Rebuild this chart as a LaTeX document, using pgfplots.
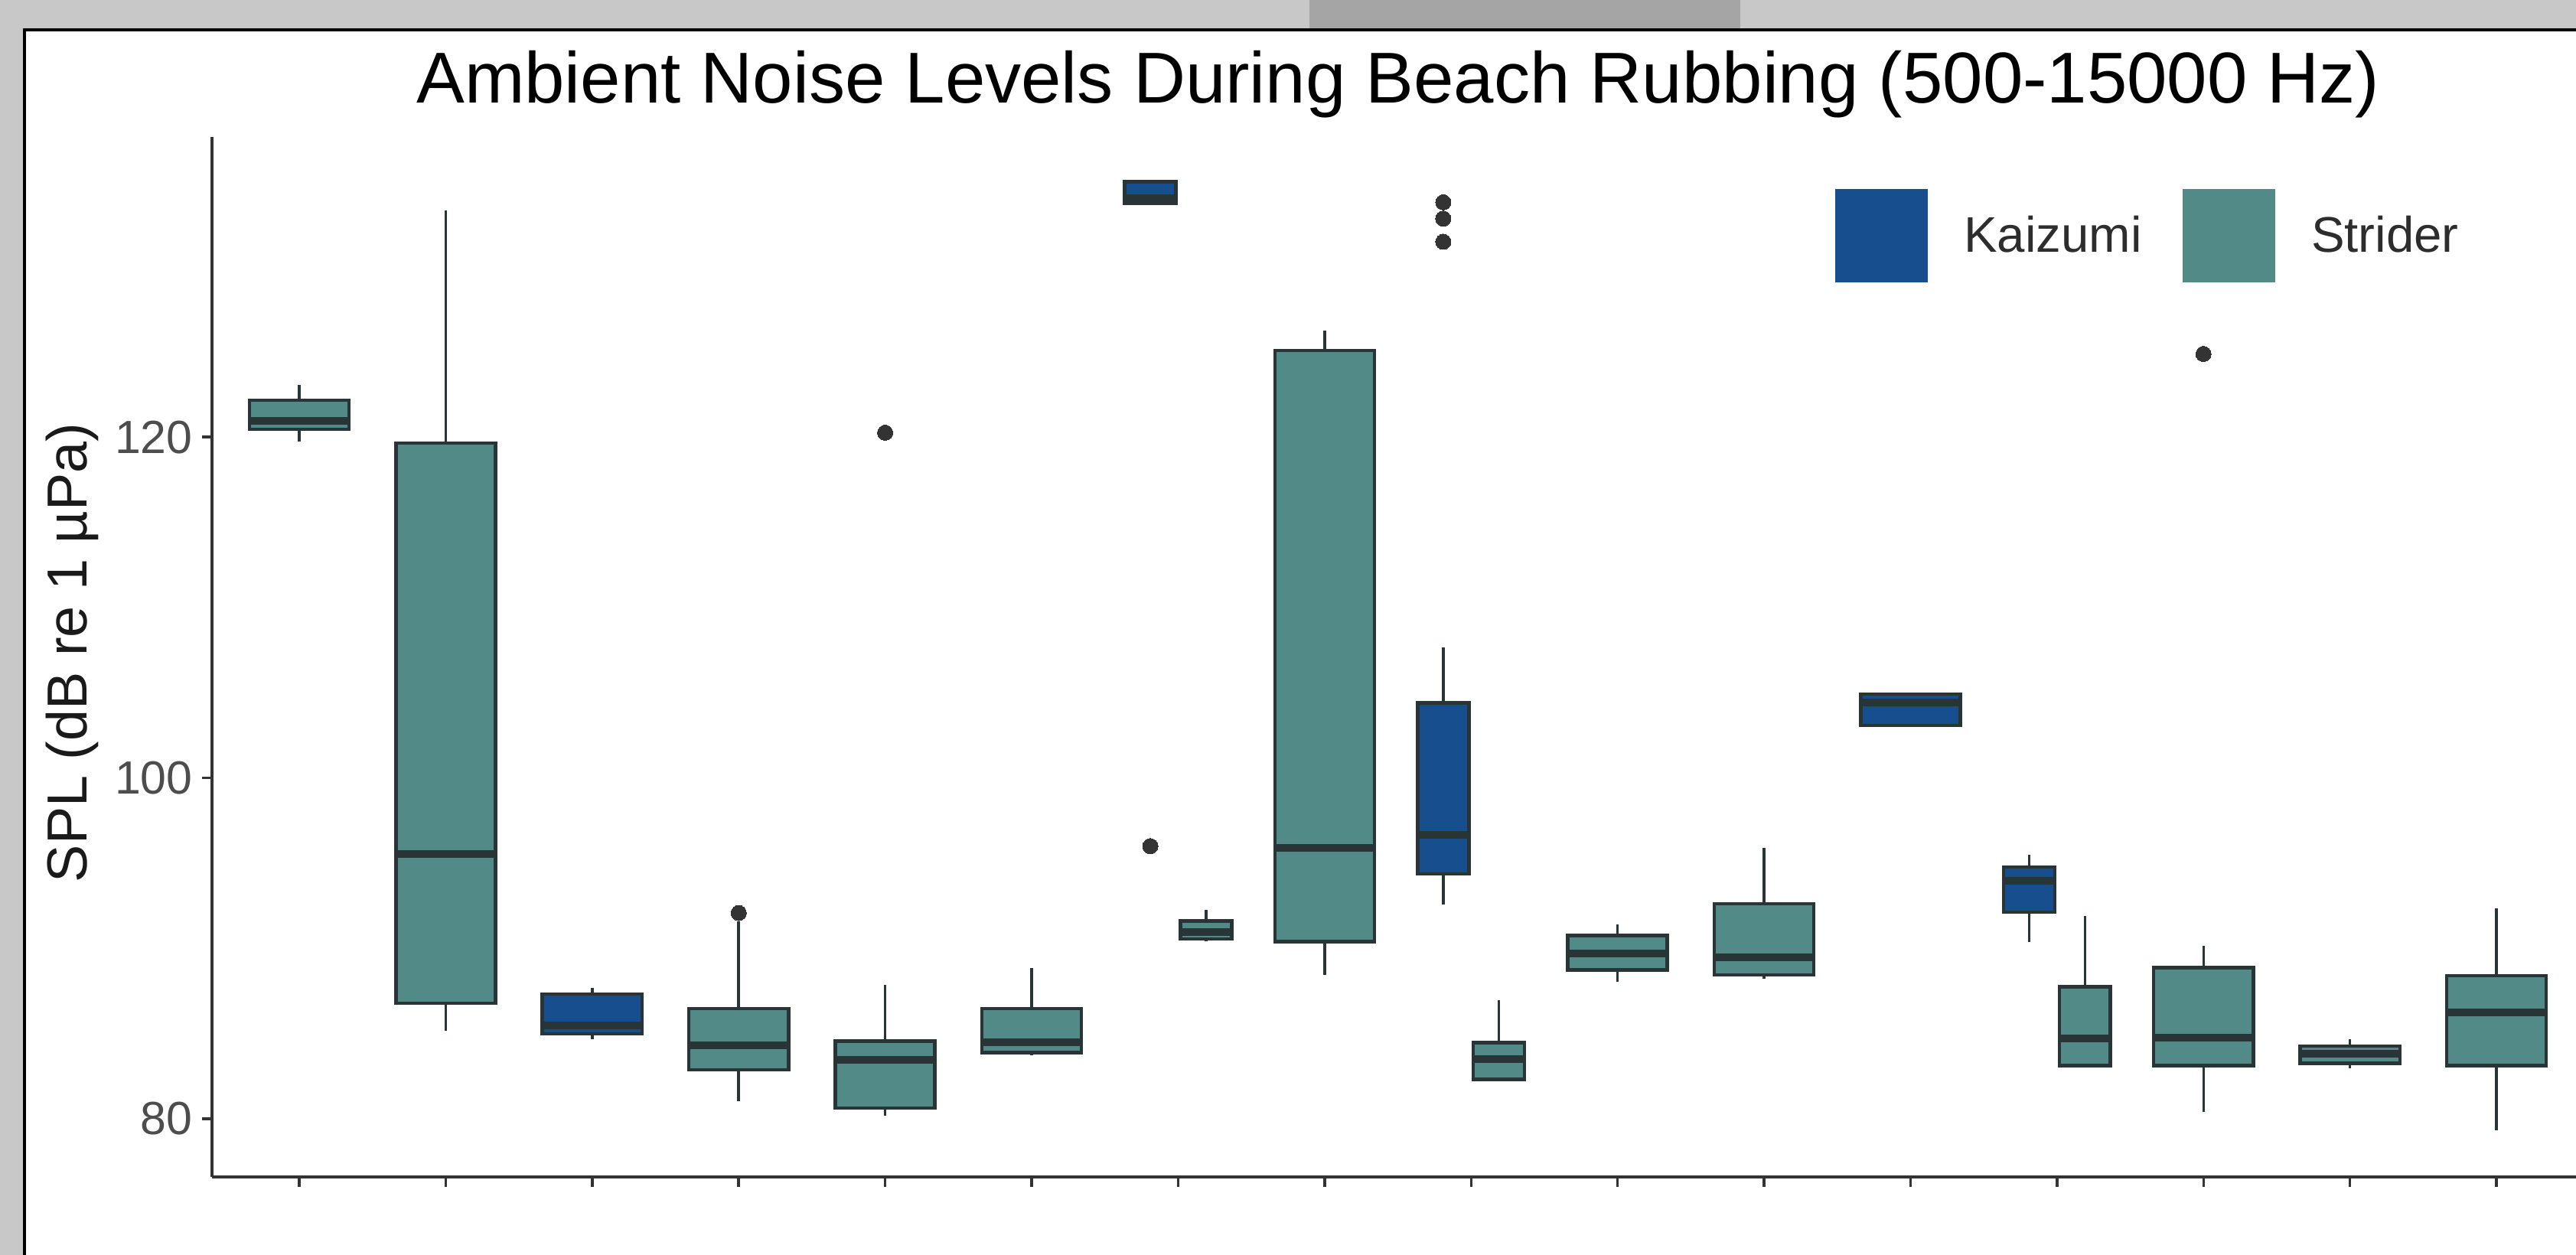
\documentclass[border=0pt]{standalone}
\usepackage{fontspec}
\setmainfont{Liberation Sans}
\usepackage{pgfplots}
\pgfplotsset{compat=1.18}

\definecolor{kaizumi}{RGB}{22,78,142}
\definecolor{strider}{RGB}{82,138,136}
\definecolor{boxline}{RGB}{40,52,54}
\definecolor{dotcol}{RGB}{51,51,51}
\definecolor{axcol}{RGB}{51,51,51}
\definecolor{tickgray}{RGB}{77,77,77}
\definecolor{legtext}{RGB}{45,45,45}
\definecolor{photo}{RGB}{200,200,200}
\definecolor{photodark}{RGB}{165,165,165}

\pgfplotsset{
  st/.style={fill=strider, draw=boxline, line width=0.045cm, mark=none, forget plot},
  kz/.style={fill=kaizumi, draw=boxline, line width=0.045cm, mark=none, forget plot},
  wh/.style={draw=boxline, line width=0.035cm, mark=none, forget plot, unbounded coords=jump},
  md/.style={draw=boxline, line width=0.1cm, mark=none, forget plot, unbounded coords=jump},
}

\begin{document}
\begin{tikzpicture}
\useasboundingbox (0,0) rectangle (33.66,16.40);
\clip (0,0) rectangle (33.66,16.40);
% photo behind the panel
\fill[photo] (0,0) rectangle (33.66,16.40);
\fill[photodark] (17.11,15.9) rectangle (22.74,16.40);
\filldraw[fill=white, draw=black, line width=0.04cm] (0.32,-1) rectangle (35,16.014);

\node[anchor=base, font=\fontsize{26.8}{32}\selectfont] at (18.27,15.05)
  {Ambient Noise Levels During Beach Rubbing (500-15000 Hz)};
\node[anchor=base, rotate=90, font=\fontsize{21}{25}\selectfont, text={rgb,255:red,26;green,26;blue,26}]
  at (1.13,7.87) {SPL (dB re 1 µPa)};

\begin{axis}[
  at={(2.77cm,1.02cm)}, anchor=south west,
  scale only axis, width=30.89cm, height=13.594cm,
  xmin=0.4044, xmax=16.543, ymin=76.59, ymax=137.63,
  axis lines*=left,
  axis line style={line width=0.045cm, draw=axcol},
  tick style={line width=0.035cm, draw=axcol},
  tick align=outside, major tick length=0.13cm,
  xtick={1,...,16}, xticklabels={},
  ytick={80,100,120},
  /pgf/number format/assume math mode=true,
  yticklabel style={font=\fontsize{17.3}{20}\selectfont, text=tickgray},
  legend columns=2,
  legend style={at={(0.6863,0.9048)}, anchor=west, draw=none, fill=white,
    inner sep=0pt, row sep=0pt, nodes={inner sep=0pt},
    font=\fontsize{18.6}{22}\selectfont, text=legtext,
    /tikz/every odd column/.append style={column sep=0.47cm},
    /tikz/every even column/.append style={column sep=0.53cm}},
]
\addlegendimage{legend image code/.code={\fill[kaizumi] (0cm,-0.6cm) rectangle (1.2cm,0.6cm);}}
\addlegendentry{Kaizumi}
\addlegendimage{legend image code/.code={\fill[strider] (0cm,-0.6cm) rectangle (1.2cm,0.6cm);}}
\addlegendentry{Strider}

% whiskers
\addplot[wh] coordinates {
 (1,119.74)(1,120.46) (1,nan) (1,122.16)(1,123.06) (1,nan)
 (2,85.16)(2,86.79) (2,nan) (2,119.65)(2,133.3) (2,nan)
 (3,84.68)(3,84.98) (3,nan) (3,87.32)(3,87.66) (3,nan)
 (4,81.03)(4,82.87) (4,nan) (4,86.47)(4,91.6) (4,nan)
 (5,80.18)(5,80.63) (5,nan) (5,84.56)(5,87.86) (5,nan)
 (6,83.73)(6,83.89) (6,nan) (6,86.47)(6,88.87) (6,nan)
 (7.19,90.4)(7.19,90.56) (7.19,nan) (7.19,91.61)(7.19,92.25) (7.19,nan)
 (8,88.45)(8,90.39) (8,nan) (8,125.08)(8,126.25) (8,nan)
 (8.81,92.59)(8.81,94.36) (8.81,nan) (8.81,104.4)(8.81,107.64) (8.81,nan)
 (9.19,84.48)(9.19,86.98) (9.19,nan)
 (10,88.02)(10,88.73) (10,nan) (10,90.76)(10,91.4) (10,nan)
 (11,88.2)(11,88.45) (11,nan) (11,92.62)(11,95.88) (11,nan)
 (12.81,90.39)(12.81,92.12) (12.81,nan) (12.81,94.78)(12.81,95.49) (12.81,nan)
 (13.19,87.75)(13.19,91.88) (13.19,nan)
 (14,80.39)(14,83.13) (14,nan) (14,88.87)(14,90.14) (14,nan)
 (15,82.96)(15,83.26) (15,nan) (15,84.27)(15,84.68) (15,nan)
 (16,79.33)(16,83.13) (16,nan) (16,88.4)(16,92.33)
};

% boxes (lower quartile to upper quartile)
\addplot[st] coordinates {(0.66,120.46)(1.34,120.46)(1.34,122.16)(0.66,122.16)} -- cycle;
\addplot[st] coordinates {(1.66,86.79)(2.34,86.79)(2.34,119.65)(1.66,119.65)} -- cycle;
\addplot[kz] coordinates {(2.66,84.98)(3.34,84.98)(3.34,87.32)(2.66,87.32)} -- cycle;
\addplot[st] coordinates {(3.66,82.87)(4.34,82.87)(4.34,86.47)(3.66,86.47)} -- cycle;
\addplot[st] coordinates {(4.66,80.63)(5.34,80.63)(5.34,84.56)(4.66,84.56)} -- cycle;
\addplot[st] coordinates {(5.66,83.89)(6.34,83.89)(6.34,86.47)(5.66,86.47)} -- cycle;
\addplot[kz] coordinates {(6.635,133.7)(6.985,133.7)(6.985,134.98)(6.635,134.98)} -- cycle;
\addplot[st] coordinates {(7.015,90.56)(7.365,90.56)(7.365,91.61)(7.015,91.61)} -- cycle;
\addplot[st] coordinates {(7.66,90.39)(8.34,90.39)(8.34,125.08)(7.66,125.08)} -- cycle;
\addplot[kz] coordinates {(8.635,94.36)(8.985,94.36)(8.985,104.4)(8.635,104.4)} -- cycle;
\addplot[st] coordinates {(9.015,82.32)(9.365,82.32)(9.365,84.48)(9.015,84.48)} -- cycle;
\addplot[st] coordinates {(9.66,88.73)(10.34,88.73)(10.34,90.76)(9.66,90.76)} -- cycle;
\addplot[st] coordinates {(10.66,88.45)(11.34,88.45)(11.34,92.62)(10.66,92.62)} -- cycle;
\addplot[kz] coordinates {(11.66,103.08)(12.34,103.08)(12.34,104.92)(11.66,104.92)} -- cycle;
\addplot[kz] coordinates {(12.635,92.12)(12.985,92.12)(12.985,94.78)(12.635,94.78)} -- cycle;
\addplot[st] coordinates {(13.015,83.13)(13.365,83.13)(13.365,87.75)(13.015,87.75)} -- cycle;
\addplot[st] coordinates {(13.66,83.13)(14.34,83.13)(14.34,88.87)(13.66,88.87)} -- cycle;
\addplot[st] coordinates {(14.66,83.26)(15.34,83.26)(15.34,84.27)(14.66,84.27)} -- cycle;
\addplot[st] coordinates {(15.66,83.13)(16.34,83.13)(16.34,88.4)(15.66,88.4)} -- cycle;

% medians
\addplot[md] coordinates {
 (0.66,120.95)(1.34,120.95) (nan,nan)
 (1.66,95.55)(2.34,95.55) (nan,nan)
 (2.66,85.5)(3.34,85.5) (nan,nan)
 (3.66,84.31)(4.34,84.31) (nan,nan)
 (4.66,83.47)(5.34,83.47) (nan,nan)
 (5.66,84.49)(6.34,84.49) (nan,nan)
 (6.635,134.0)(6.985,134.0) (nan,nan)
 (7.015,90.98)(7.365,90.98) (nan,nan)
 (7.66,95.88)(8.34,95.88) (nan,nan)
 (8.635,96.64)(8.985,96.64) (nan,nan)
 (9.015,83.5)(9.365,83.5) (nan,nan)
 (9.66,89.68)(10.34,89.68) (nan,nan)
 (10.66,89.46)(11.34,89.46) (nan,nan)
 (11.66,104.43)(12.34,104.43) (nan,nan)
 (12.635,93.97)(12.985,93.97) (nan,nan)
 (13.015,84.73)(13.365,84.73) (nan,nan)
 (13.66,84.78)(14.34,84.78) (nan,nan)
 (14.66,83.8)(15.34,83.8) (nan,nan)
 (15.66,86.25)(16.34,86.25)
};

% outliers
\addplot[only marks, mark=*, mark size=0.1cm, forget plot,
  mark options={draw=dotcol, fill=dotcol, line width=0pt}] coordinates {
 (4,92.08) (5,120.26) (6.81,96.0)
 (8.81,131.46) (8.81,132.82) (8.81,133.78) (14,124.88)
};
\end{axis}
\end{tikzpicture}
\end{document}
